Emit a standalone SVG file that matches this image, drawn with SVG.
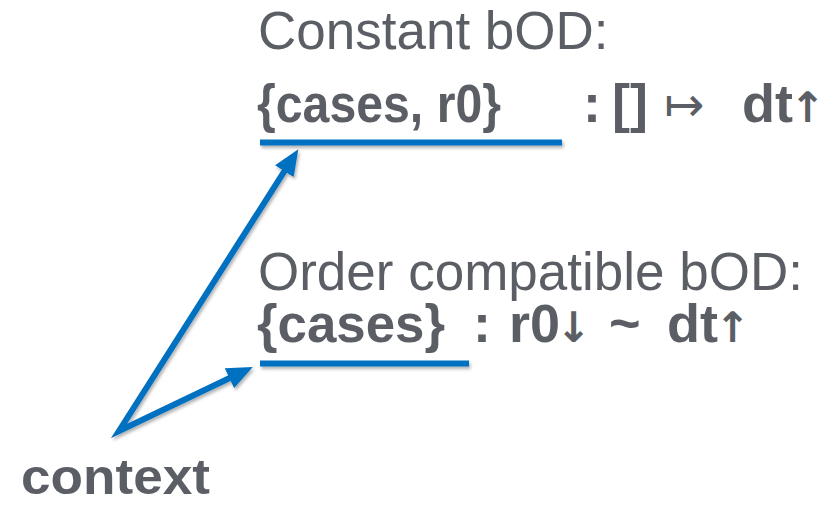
<svg xmlns="http://www.w3.org/2000/svg" width="828" height="505" viewBox="0 0 828 505">
<style>
.t{font-family:"Liberation Sans",Arial,sans-serif;fill:#5b5f65}
.r{font-size:53px}
.b{font-size:54px;font-weight:bold}
.ar{font-family:"DejaVu Sans","Liberation Sans",sans-serif;font-weight:bold;font-size:42px}
.ul{fill:#0070c0}
.ln{stroke:#0070c0;stroke-width:6;fill:none;stroke-linejoin:miter;stroke-miterlimit:10}
</style>
<defs>
<filter id="sh" filterUnits="userSpaceOnUse" x="0" y="0" width="828" height="505">
<feDropShadow dx="1.5" dy="2.5" stdDeviation="1.5" flood-color="#000" flood-opacity="0.3"/>
</filter>
<marker id="ah" viewBox="0 0 26 22" refX="12" refY="11" markerWidth="26" markerHeight="22" orient="auto-start-reverse" markerUnits="userSpaceOnUse">
<path d="M0,0 L26,11 L0,22 Z" fill="#0070c0"/>
</marker>
</defs>
<g id="constant">
<text class="t r" x="258" y="49">Constant bOD:</text>
<text class="t b" x="257" y="122" textLength="244" lengthAdjust="spacingAndGlyphs">{cases, r0}</text>
<text class="t b" x="583" y="122">:</text>
<text class="t b" x="612" y="122">[]</text>
<text class="t ar" x="664" y="121" style="font-weight:normal;font-size:48px">↦</text>
<text class="t b" x="742" y="122">dt</text>
<text class="t ar" x="790" y="122">↑</text>
<rect class="ul" x="260" y="139.5" width="302" height="6" filter="url(#sh)"/>
</g>
<g id="order">
<text class="t r" x="258" y="290">Order compatible bOD:</text>
<text class="t b" x="257" y="342" textLength="188" lengthAdjust="spacingAndGlyphs">{cases}</text>
<text class="t b" x="473" y="342">:</text>
<text class="t b" x="509" y="342">r0</text>
<text class="t ar" x="556" y="342">↓</text>
<text class="t b" x="609" y="342">~</text>
<text class="t b" x="667" y="342">dt</text>
<text class="t ar" x="715" y="342">↑</text>
<rect class="ul" x="260" y="360.5" width="209" height="6" filter="url(#sh)"/>
</g>
<g id="context">
<text class="t b" x="21" y="494" style="font-size:50px" textLength="189" lengthAdjust="spacingAndGlyphs">context</text>
</g>
<g id="connectors" filter="url(#sh)">
<path class="ln" d="M290.8,161.1 L119,431 L240.2,373" marker-start="url(#ah)" marker-end="url(#ah)"/>
</g>
</svg>
